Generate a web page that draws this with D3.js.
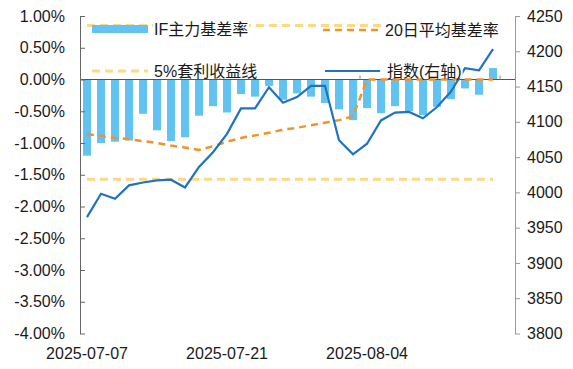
<!DOCTYPE html>
<html>
  <body style="margin:0;background:#fff">
    <style>
      svg { display: block; font-family: "Liberation Sans", Arial, "Noto Sans CJK SC", sans-serif; }
      .tick text { font-size: 16px; fill: #1a1a1a; }
    </style>
    <script src="https://cdn.jsdelivr.net/npm/d3@7"></script>
    <script>
      const width = 573;
      const height = 369;

      const dates = [
        '2025-07-07', '2025-07-08', '2025-07-09', '2025-07-10', '2025-07-11',
        '2025-07-14', '2025-07-15', '2025-07-16', '2025-07-17', '2025-07-18',
        '2025-07-21', '2025-07-22', '2025-07-23', '2025-07-24', '2025-07-25',
        '2025-07-28', '2025-07-29', '2025-07-30', '2025-07-31', '2025-08-01',
        '2025-08-04', '2025-08-05', '2025-08-06', '2025-08-07', '2025-08-08',
        '2025-08-11', '2025-08-12', '2025-08-13', '2025-08-14', '2025-08-15',
      ];
      const dateLabels = ['2025-07-07', '2025-07-21', '2025-08-04'];

      // IF主力基差率 (%)
      const basis = [
        -1.20, -1.00, -0.98, -0.96, -0.54, -0.80, -0.97, -0.91, -0.57, -0.42,
        -0.52, -0.23, -0.27, -0.10, -0.32, -0.22, -0.27, -0.37, -0.47, -0.64,
        -0.45, -0.53, -0.42, -0.50, -0.56, -0.43, -0.31, -0.14, -0.24, 0.18,
      ];
      // 20日平均基差率 (%)
      const avg20 = [
        -0.86, -0.89, -0.92, -0.94, -0.97, -1.00, -1.04, -1.07, -1.11, -1.05,
        -0.98, -0.92, -0.88, -0.84, -0.79, -0.76, -0.72, -0.68, -0.64, -0.58,
        0.00, 0.00, 0.00, 0.00, 0.00, 0.00, 0.00, 0.00, 0.00, 0.00,
      ];
      // 5%套利收益线 (%), upper and lower
      const arbLines = [0.85, -1.57];
      // 指数(右轴)
      const index = [
        3965, 3998, 3991, 4010, 4014, 4017, 4018, 4007, 4036, 4057,
        4083, 4119, 4119, 4149, 4127, 4135, 4151, 4151, 4074, 4054,
        4069, 4102, 4113, 4114, 4105, 4121, 4143, 4176, 4173, 4203,
      ];

      const leftTicks = [1, 0.5, 0, -0.5, -1, -1.5, -2, -2.5, -3, -3.5, -4];
      const rightTicks = [4250, 4200, 4150, 4100, 4050, 4000, 3950, 3900, 3850, 3800];

      const colBar = '#62c3f3';
      const colIndex = '#1f74c0';
      const colAvg = '#f2922a';
      const colArb = '#fdd982';

      const plotLeft = 80, plotRight = 515, plotTop = 16, plotBottom = 333.5;

      const svg = d3.select('body').append('svg')
        .attr('width', width)
        .attr('height', height);

      const x = d3.scaleBand().domain(dates).range([plotLeft, 500]).paddingInner(0.43).paddingOuter(0.215);
      const cx = (d) => x(d) + x.bandwidth() / 2;
      const y = d3.scaleLinear().domain([-4, 1]).range([plotBottom, plotTop]);
      const y2 = d3.scaleLinear().domain([3800, 4250]).range([plotBottom, plotTop]);

      // bars
      svg.append('g').selectAll('rect')
        .data(basis)
        .enter()
        .append('rect')
        .attr('x', (d, i) => x(dates[i]))
        .attr('width', x.bandwidth())
        .attr('y', (d) => y(Math.max(0, d)))
        .attr('height', (d) => Math.abs(y(d) - y(0)))
        .attr('fill', colBar);

      // zero line
      svg.append('line')
        .attr('x1', plotLeft).attr('x2', plotRight)
        .attr('y1', y(0)).attr('y2', y(0))
        .attr('stroke', '#555').attr('stroke-width', 1);

      // small ticks on the zero line every 10 days
      [10, 20, 30].forEach((i) => {
        const bx = plotLeft + x.step() * (i + x.paddingOuter()) - x.step() * x.paddingInner() / 2;
        svg.append('line')
          .attr('x1', bx).attr('x2', bx)
          .attr('y1', y(0)).attr('y2', y(0) - 4)
          .attr('stroke', '#888');
      });

      // arbitrage lines
      arbLines.forEach((v) => {
        svg.append('path')
          .datum(dates)
          .attr('d', d3.line().x(cx).y(() => y(v)))
          .attr('fill', 'none')
          .attr('stroke', colArb)
          .attr('stroke-width', 3)
          .attr('stroke-dasharray', '8,5');
      });

      // 20-day average
      svg.append('path')
        .datum(avg20)
        .attr('d', d3.line().x((d, i) => cx(dates[i])).y((d) => y(d)))
        .attr('fill', 'none')
        .attr('stroke', colAvg)
        .attr('stroke-width', 2.5)
        .attr('stroke-dasharray', '7,5');

      // index line
      svg.append('path')
        .datum(index)
        .attr('d', d3.line().x((d, i) => cx(dates[i])).y((d) => y2(d)))
        .attr('fill', 'none')
        .attr('stroke', colIndex)
        .attr('stroke-width', 2.2);

      // left axis
      const axL = svg.append('g')
        .attr('transform', `translate(${plotLeft},0)`)
        .call(d3.axisLeft(y).tickValues(leftTicks)
          .tickFormat((d) => d.toFixed(2) + '%')
          .tickSizeInner(-5).tickSizeOuter(0).tickPadding(15));
      axL.select('.domain').attr('stroke', '#666');
      axL.selectAll('.tick line').attr('stroke', '#666');

      // right axis
      const axR = svg.append('g')
        .attr('transform', `translate(${plotRight},0)`)
        .call(d3.axisRight(y2).tickValues(rightTicks)
          .tickFormat(d3.format('d'))
          .tickSizeInner(5).tickSizeOuter(0).tickPadding(7));
      axR.select('.domain').attr('stroke', '#999');
      axR.selectAll('.tick line').attr('stroke', '#999');

      // x axis labels
      const axX = svg.append('g')
        .attr('transform', `translate(0,${plotBottom})`)
        .call(d3.axisBottom(x).tickValues(dateLabels).tickSize(0).tickPadding(14));
      axX.select('.domain').remove();

      // legend
      const legend = [
        { name: 'IF主力基差率', type: 'bar', x: 92, y: 29 },
        { name: '20日平均基差率', type: 'avg', x: 323, y: 30 },
        { name: '5%套利收益线', type: 'arb', x: 92, y: 71 },
        { name: '指数(右轴)', type: 'idx', x: 325, y: 71 },
      ];
      const lg = svg.append('g').attr('font-size', 16).attr('fill', '#1a1a1a');
      legend.forEach((l) => {
        const g = lg.append('g').attr('transform', `translate(${l.x},${l.y})`);
        const t = g.append('text')
          .attr('x', 62).attr('dy', '0.36em')
          .attr('font-family', '"Liberation Sans", Arial, "Noto Sans CJK SC", sans-serif')
          .text(l.name);
        const bb = t.node().getBBox();
        g.insert('rect', 'text')
          .attr('x', bb.x - 1).attr('y', bb.y + 2)
          .attr('width', bb.width + 2).attr('height', bb.height - 4)
          .attr('fill', '#fff');
        if (l.type === 'bar') {
          g.append('rect').attr('x', 0).attr('y', -4).attr('width', 56).attr('height', 8).attr('fill', colBar);
        } else if (l.type === 'avg') {
          g.append('line').attr('x1', 0).attr('x2', 57).attr('stroke', colAvg)
            .attr('stroke-width', 2.5).attr('stroke-dasharray', '7,5');
        } else if (l.type === 'arb') {
          g.append('line').attr('x1', 0).attr('x2', 56).attr('stroke', colArb)
            .attr('stroke-width', 3).attr('stroke-dasharray', '8,5');
        } else {
          g.append('line').attr('x1', 0).attr('x2', 55).attr('stroke', colIndex)
            .attr('stroke-width', 2.2);
        }
      });
    </script>
  </body>
</html>
